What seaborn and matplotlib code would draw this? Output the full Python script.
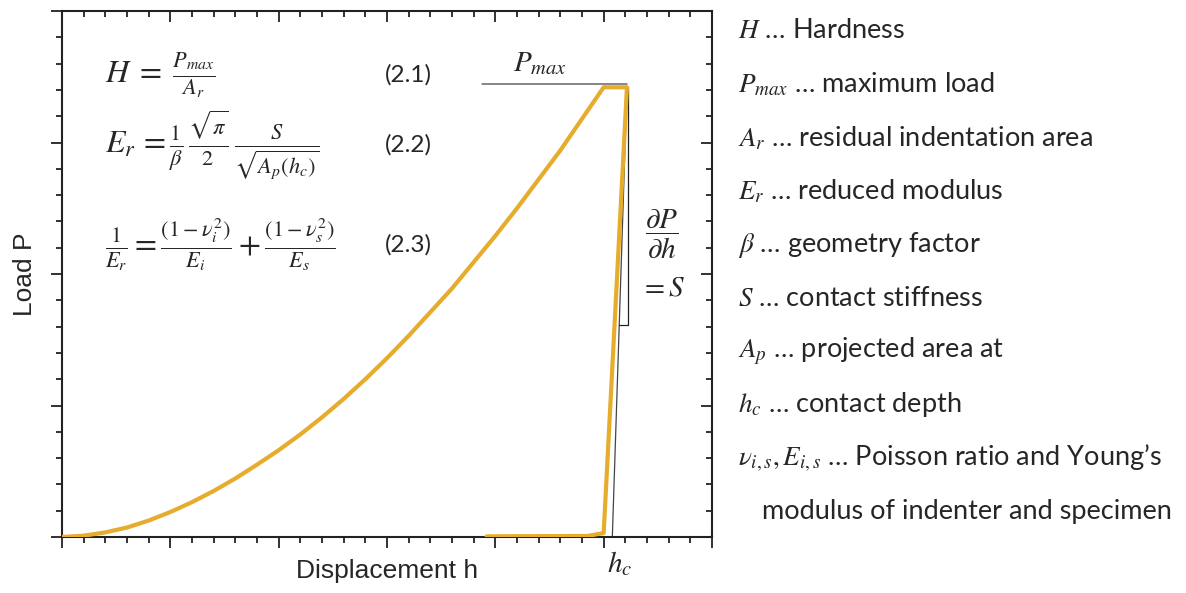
import matplotlib
matplotlib.use("Agg")
import matplotlib.pyplot as plt
import seaborn as sns
import pandas as pd
from matplotlib.ticker import MultipleLocator
from matplotlib.transforms import blended_transform_factory

# ---- data ----
load_h = [0.0, 0.2, 0.4, 0.6, 0.8, 1.0, 1.2, 1.4, 1.6, 1.8, 2.0, 2.2, 2.4,
          2.6, 2.8, 3.0, 3.2, 3.4, 3.6, 3.8, 4.0, 4.2, 4.4, 4.6, 4.8, 5.0]
load_P = [0.0, 0.010, 0.035, 0.072, 0.125, 0.19, 0.265, 0.35, 0.445, 0.55,
          0.66, 0.78, 0.91, 1.05, 1.20, 1.36, 1.53, 1.71, 1.89, 2.09, 2.29,
          2.50, 2.72, 2.94, 3.18, 3.42]
hold_h = [5.0, 5.215]
hold_P = [3.42, 3.42]
unload_h = [5.215, 5.0, 4.85, 3.92]
unload_P = [3.42, 0.03, 0.008, 0.005]

pmax_line_h = [3.88, 5.215]
pmax_line_P = [3.445, 3.445]
tangent_h = [5.215, 5.08]
tangent_P = [3.42, 0.0]
bracket_h = [5.225, 5.225, 5.145]
bracket_P = [3.42, 1.61, 1.61]
h_c = 5.08

x_label = "Displacement h"
y_label = "Load P"
equations = [r"$H\;=\;\frac{P_{max}}{A_r}$",
             r"$E_r\,=\frac{1}{\beta}\,\frac{\sqrt{\pi}}{2}\,\frac{S}{\sqrt{A_p(h_c)}}$",
             r"$\frac{1}{E_r}=\frac{(1-\nu_i^2)}{E_i}+\frac{(1-\nu_s^2)}{E_s}$"]
eq_numbers = ["(2.1)", "(2.2)", "(2.3)"]
legend_lines = [r"$H$ … Hardness",
                r"$P_{max}$ … maximum load",
                r"$A_r$ … residual indentation area",
                r"$E_r$ … reduced modulus",
                r"$\beta$ … geometry factor",
                r"$S$ … contact stiffness",
                r"$A_p$ … projected area at",
                r"$h_c$ … contact depth",
                r"$\nu_{i,s}, E_{i,s}$ … Poisson ratio and Young’s",
                r"modulus of indenter and specimen"]

ORANGE = "#E6AC2C"
DARK = "#222222"
W, H = 1186, 593

sns.set_theme(style="ticks")
plt.rcParams["font.family"] = ["Lato", "DejaVu Sans"]
plt.rcParams["mathtext.fontset"] = "stix"

fig = plt.figure(figsize=(W / 100, H / 100), dpi=100)
ax_w_px, ax_h_px = 712 - 62, 537 - 11
pos = [62 / W, 1 - 537 / H, ax_w_px / W, ax_h_px / H]
ax = fig.add_axes(pos)


def fpx(x, y):
    return x / W, 1 - y / H


curve = pd.DataFrame({
    "h": load_h + hold_h[1:] + unload_h[1:],
    "P": load_P + hold_P[1:] + unload_P[1:],
})
sns.lineplot(data=curve, x="h", y="P", sort=False, estimator=None,
             color=ORANGE, lw=3.0, ax=ax, zorder=3)
sns.lineplot(x=pmax_line_h, y=pmax_line_P, sort=False, estimator=None,
             color="#666666", lw=1.1, ax=ax, zorder=2)
sns.lineplot(x=tangent_h, y=tangent_P, sort=False, estimator=None,
             color="#444444", lw=0.9, ax=ax, zorder=2)
sns.lineplot(x=bracket_h, y=bracket_P, sort=False, estimator=None,
             color=DARK, lw=0.9, ax=ax, zorder=2)

ax.set_xlim(0, 6)
ax.set_ylim(0, 4)
major = MultipleLocator(1)
minor = MultipleLocator(0.2)
ax.xaxis.set_major_locator(major)
ax.xaxis.set_minor_locator(minor)
ax.yaxis.set_major_locator(MultipleLocator(1))
ax.yaxis.set_minor_locator(MultipleLocator(0.2))
for s in ax.spines.values():
    s.set_linewidth(1.5)
    s.set_color(DARK)
ax.tick_params(which="both", direction="out", color=DARK, width=1.3,
               bottom=True, left=True, labelbottom=False, labelleft=False)
ax.tick_params(which="major", length=8)
ax.tick_params(which="minor", length=4.5)

# inward ticks along the top and right edges (positions from the locators)
MAJ_PX, MIN_PX = 11, 6
tx = blended_transform_factory(ax.transData, ax.transAxes)
ty = blended_transform_factory(ax.transAxes, ax.transData)
for v in minor.tick_values(0, 6):
    if 0 <= v <= 6:
        L = (MAJ_PX if abs(v - round(v)) < 1e-6 else MIN_PX) / ax_h_px
        ax.plot([v, v], [1, 1 - L], transform=tx, color=DARK, lw=1.3,
                clip_on=False, solid_capstyle="butt", zorder=4)
for v in minor.tick_values(0, 4):
    if 0 <= v <= 4:
        L = (MAJ_PX if abs(v - round(v)) < 1e-6 else MIN_PX) / ax_w_px
        ax.plot([1, 1 - L], [v, v], transform=ty, color=DARK, lw=1.3,
                clip_on=False, solid_capstyle="butt", zorder=4)

ax.set_xlabel(x_label, family="Liberation Sans", fontsize=19, labelpad=8)
ax.set_ylabel(y_label, family="Liberation Sans", fontsize=19, labelpad=10)

# annotations in data space
ax.text(4.41, 3.50, r"$P_{max}$", fontsize=21, ha="center", va="bottom")
ax.text(5.54, 2.30, r"$\dfrac{\partial P}{\partial h}$", fontsize=21,
        ha="center", va="center")
ax.text(5.54, 1.90, r"$=S$", fontsize=21, ha="center", va="center")
trans = blended_transform_factory(ax.transData, ax.transAxes)
ax.text(h_c + 0.07, -0.05, r"$h_c$", fontsize=21, ha="center", va="center",
        transform=trans)

# equations
eq_y = [75, 145, 245]
for eq, num, y in zip(equations, eq_numbers, eq_y):
    fig.text(*fpx(105, y), eq, fontsize=23, ha="left", va="center")
    fig.text(*fpx(385, y), num, fontsize=17.5, ha="left", va="center")

# right-hand glossary
for i, line in enumerate(legend_lines):
    x = 762 if i == len(legend_lines) - 1 else 738
    fig.text(*fpx(x, 31 + i * 53.4), line, fontsize=19.5, ha="left",
             va="center")

fig.savefig("out.png", dpi=100)
